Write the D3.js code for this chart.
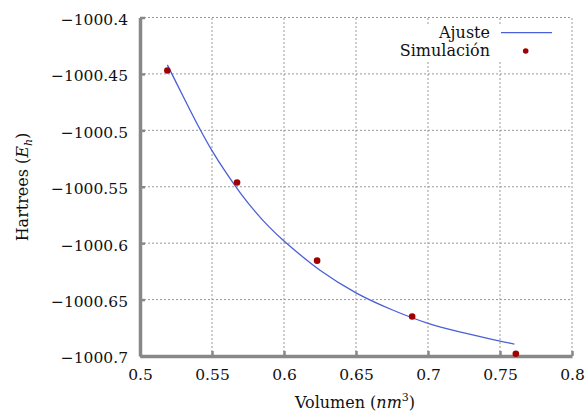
<!DOCTYPE html>
<html>
<head>
<meta charset="utf-8">
<script src="https://cdn.jsdelivr.net/npm/d3@7"></script>
<style>
  body { margin: 0; background: #fff; }
  svg text { font-family: "DejaVu Serif", serif; fill: #111; }
</style>
</head>
<body>
<div id="graph"></div>
<script>
// Datos
const simVolumen = [0.519, 0.5674, 0.623, 0.689, 0.761];
const simEnergia = [-1000.447, -1000.5462, -1000.6155, -1000.665, -1000.698];

const ajusteVolumen = [0.519, 0.53, 0.54, 0.55, 0.56, 0.57, 0.58, 0.59, 0.6, 0.625, 0.65, 0.675, 0.7, 0.725, 0.75, 0.76];
const ajusteEnergia = [-1000.442, -1000.470, -1000.495, -1000.518, -1000.538, -1000.556, -1000.572, -1000.586,
                       -1000.598, -1000.624, -1000.644, -1000.659, -1000.671, -1000.6795, -1000.6868, -1000.6894];

const xTicks = [0.5, 0.55, 0.6, 0.65, 0.7, 0.75, 0.8];
const xTickLabels = ["0.5", "0.55", "0.6", "0.65", "0.7", "0.75", "0.8"];
const yTicks = [-1000.7, -1000.65, -1000.6, -1000.55, -1000.5, -1000.45, -1000.4];
const yTickLabels = ["\u22121000.7", "\u22121000.65", "\u22121000.6", "\u22121000.55", "\u22121000.5", "\u22121000.45", "\u22121000.4"];

const width = 587, height = 412;
const margin = { left: 140, right: 15, top: 17.5, bottom: 56 };

const svg = d3.select("#graph").append("svg")
    .attr("width", width)
    .attr("height", height);

const x = d3.scaleLinear().domain([0.5, 0.8]).range([margin.left, width - margin.right]);
const y = d3.scaleLinear().domain([-1000.7, -1000.4]).range([height - margin.bottom, margin.top]);

const gridColor = "#9a9a9a";
const axisColor = "#888";

// Rejilla punteada
svg.append("g")
    .selectAll("line")
    .data(xTicks.slice(1))
    .enter().append("line")
    .attr("x1", d => x(d)).attr("x2", d => x(d))
    .attr("y1", y.range()[0]).attr("y2", y.range()[1])
    .attr("stroke", gridColor).attr("stroke-width", 1)
    .attr("stroke-dasharray", "2,2");

svg.append("g")
    .selectAll("line")
    .data(yTicks.slice(1))
    .enter().append("line")
    .attr("x1", x.range()[0]).attr("x2", x.range()[1])
    .attr("y1", d => y(d)).attr("y2", d => y(d))
    .attr("stroke", gridColor).attr("stroke-width", 1)
    .attr("stroke-dasharray", "2,2");

// Ejes
const xAxis = d3.axisBottom(x)
    .tickValues(xTicks)
    .tickFormat((d, i) => xTickLabels[i])
    .tickSizeInner(-5)
    .tickSizeOuter(0)
    .tickPadding(13);

const yAxis = d3.axisLeft(y)
    .tickValues(yTicks)
    .tickFormat((d, i) => yTickLabels[i])
    .tickSizeInner(-5)
    .tickSizeOuter(0)
    .tickPadding(12);

const gx = svg.append("g")
    .attr("transform", `translate(0,${y.range()[0]})`)
    .call(xAxis);

const gy = svg.append("g")
    .attr("transform", `translate(${x.range()[0]},0)`)
    .call(yAxis);

[gx, gy].forEach(g => {
    g.select(".domain").attr("stroke", axisColor).attr("stroke-width", 3.5);
    g.selectAll(".tick line").attr("stroke", axisColor).attr("stroke-width", 2.5);
    g.selectAll(".tick text")
        .attr("fill", "#111")
        .style("font-family", "'DejaVu Serif', serif")
        .style("font-size", "15.5px");
});
gy.selectAll(".tick text").attr("dy", "0.45em");

// Leyenda (fondo blanco)
svg.append("rect")
    .attr("x", 392).attr("y", 24)
    .attr("width", 170).attr("height", 38)
    .attr("fill", "#fff");

// Curva de ajuste
const ajuste = ajusteVolumen.map((v, i) => [v, ajusteEnergia[i]]);
const line = d3.line()
    .x(d => x(d[0]))
    .y(d => y(d[1]))
    .curve(d3.curveCatmullRom);

svg.append("path")
    .datum(ajuste)
    .attr("d", line)
    .attr("fill", "none")
    .attr("stroke", "#4a5fd8")
    .attr("stroke-width", 1.3);

// Puntos de simulación
svg.append("g")
    .selectAll("circle")
    .data(simVolumen.map((v, i) => [v, simEnergia[i]]))
    .enter().append("circle")
    .attr("cx", d => x(d[0]))
    .attr("cy", d => y(d[1]))
    .attr("r", 3.3)
    .attr("fill", "#a00000");

// Texto de la leyenda
const leyenda = svg.append("g");
leyenda.append("text")
    .attr("x", 490).attr("y", 38)
    .attr("text-anchor", "end")
    .style("font-size", "16px")
    .text("Ajuste");
leyenda.append("line")
    .attr("x1", 501).attr("x2", 552)
    .attr("y1", 32.7).attr("y2", 32.7)
    .attr("stroke", "#4a5fd8").attr("stroke-width", 1.3);
leyenda.append("text")
    .attr("x", 490).attr("y", 56)
    .attr("text-anchor", "end")
    .style("font-size", "16px")
    .text("Simulación");
leyenda.append("circle")
    .attr("cx", 525.7).attr("cy", 51)
    .attr("r", 2.8)
    .attr("fill", "#a00000");

// Títulos de los ejes
const xt = svg.append("text")
    .attr("x", 355).attr("y", 408)
    .attr("text-anchor", "middle")
    .style("font-size", "16px");
xt.append("tspan").text("Volumen (");
xt.append("tspan").style("font-style", "italic").text("nm");
xt.append("tspan").attr("dy", -7).style("font-size", "11px").text("3");
xt.append("tspan").attr("dy", 7).text(")");

const yt = svg.append("text")
    .attr("transform", "translate(28,187) rotate(-90)")
    .attr("text-anchor", "middle")
    .style("font-size", "16px");
yt.append("tspan").text("Hartrees (");
yt.append("tspan").style("font-style", "italic").text("E");
yt.append("tspan").attr("dy", 4).style("font-size", "11px").style("font-style", "italic").text("h");
yt.append("tspan").attr("dy", -4).text(")");
</script>
</body>
</html>
